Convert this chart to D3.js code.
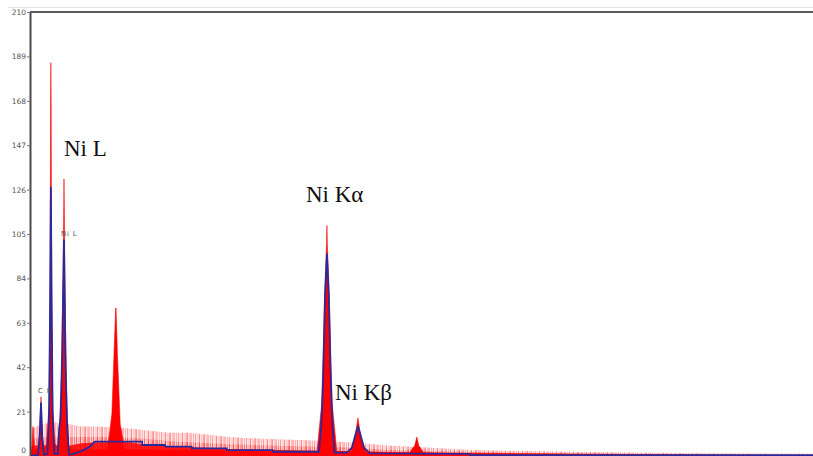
<!DOCTYPE html>
<html>
<head>
<meta charset="utf-8">
<script src="https://cdn.jsdelivr.net/npm/d3@7"></script>
<style>
  body { margin: 0; background: #fff; }
  svg { display: block; }
</style>
</head>
<body>
<svg id="chart" width="813" height="456"></svg>
<script>
// Count axis ticks
const yTicks = [0, 21, 42, 63, 84, 105, 126, 147, 168, 189, 210]

const specKeV = [0, 0.05, 0.075, 0.1, 0.2, 0.24, 0.277, 0.31, 0.36,
  0.42, 0.48, 0.505, 0.518, 0.525, 0.532, 0.545, 0.57, 0.62,
  0.7, 0.74, 0.8, 0.84, 0.85, 0.855, 0.862, 0.875, 0.91, 0.97, 1.05,
  1.95, 2.06, 2.12, 2.155, 2.165, 2.2, 2.27, 2.38,
  7.22, 7.34, 7.42, 7.46, 7.47, 7.48, 7.52, 7.6, 7.72,
  8.05, 8.17, 8.25, 8.33, 8.45,
  9.55, 9.68, 9.73, 9.78, 9.9, 20]
const specCounts = [0, 3, 14, 3, 3, 10, 28, 10, 3,
  6, 25, 80, 168, 186, 168, 80, 25, 6,
  4, 14, 40, 100, 119, 131, 119, 90, 35, 4, 3,
  3, 20, 52, 70, 70, 48, 15, 3,
  2, 25, 80, 100, 109, 100, 80, 25, 2,
  2, 8, 18, 8, 2,
  1.5, 5, 9, 5, 1.5, 0]

// Fitted spectrum (keV, counts)
const fitKeV = [0, 0.2, 0.24, 0.277, 0.31, 0.35,
  0.44, 0.48, 0.505, 0.525, 0.545, 0.57, 0.61,
  0.7, 0.735, 0.77, 0.81, 0.855, 0.89, 0.93, 0.98, 1.0,
  1.26, 1.5, 1.63, 2.82, 2.82, 3.4, 3.4, 4.07, 4.07, 4.95, 4.95, 6.11, 6.11, 7.27,
  7.33, 7.38, 7.42, 7.47, 7.52, 7.56, 7.61, 7.66, 7.97,
  8.1, 8.2, 8.25, 8.3, 8.4, 8.55, 11.07, 11.07, 20]
const fitCounts = [0, 0.5, 8, 25, 8, 0.5,
  1, 20, 70, 127, 70, 20, 1,
  1, 13, 18, 50, 102, 50, 15, 1, 0.5,
  2, 4.3, 6.8, 6.8, 5.2, 5.2, 4.4, 4.4, 3.6, 3.6, 2.8, 2.8, 2.0, 2.0,
  14, 40, 75, 95.5, 75, 40, 14, 1.6, 1.6,
  4, 11, 14, 11, 4, 1.2, 1.0, 0.4, 0.4]

// Noise band: highest spikes, dense middle and solid core
const noiseKeV = [0, 0.05, 0.3, 0.6, 1.0, 1.3, 1.7, 2.5, 3.0, 3.5, 4.0, 4.5, 5.0,
  6.0, 7.0, 8.0, 9.0, 10.0, 11.0, 12.0, 13.5, 15, 17, 20]
const noiseHigh = [0, 13, 15, 16, 15, 14, 14, 13, 12, 11, 11, 10, 9,
  8, 7.5, 6.5, 5, 4, 3, 2.5, 2, 1.6, 1.3, 1]
const noiseMid = [0, 8, 9, 9, 9, 9, 9, 8.5, 8, 7, 6.5, 6, 5.5,
  5, 4.5, 4, 3, 2.5, 2, 1.6, 1.3, 1.1, 0.9, 0.7]
const noiseCore = [0, 5, 5, 5, 5, 6, 6.5, 6.5, 5, 4.7, 4.3, 3.8, 3.3,
  3, 2.6, 2.2, 1.8, 1.5, 1.2, 1, 0.8, 0.6, 0.5, 0.4]

// Peak labels
const labelText = ['Ni L', 'Ni Kα', 'Ni Kβ']
const labelKeV = [0.855, 7.47, 8.25]
const labelApex = [131, 109, 18]
const smallLabelText = ['C K', 'Ni L']
const smallLabelKeV = [0.277, 0.855]
const smallLabelApex = [28, 102]

const width = 813
const height = 456
const RED = '#ff0000'
const BLUE = '#2a2a9c'

const svg = d3.select('#chart')

const x = d3.scaleLinear().domain([0, 20]).range([30, 825])
const y = d3.scaleLinear().domain([0, 210]).range([456, 12])

const zip = (xs, ys) => xs.map((k, i) => [k, ys[i]])

// faint outer rule above the frame
svg.append('line')
  .attr('x1', 8).attr('x2', width)
  .attr('y1', 7.5).attr('y2', 7.5)
  .attr('stroke', '#e6e6e6')
  .attr('stroke-width', 1)

// uneven stripe pattern for the noise haze
const defs = svg.append('defs')
const pat = defs.append('pattern')
  .attr('id', 'spikes')
  .attr('patternUnits', 'userSpaceOnUse')
  .attr('width', 17)
  .attr('height', 456)
pat.append('rect').attr('width', 17).attr('height', 456).attr('fill', RED).attr('fill-opacity', 0.1)
;[[0, 0.35], [2, 0.15], [3.5, 0.4], [6, 0.2], [8, 0.3], [10.5, 0.12], [12, 0.38], [14.5, 0.18], [16, 0.25]].forEach(([px, op]) => {
  pat.append('rect')
    .attr('x', px).attr('width', 1).attr('height', 456)
    .attr('fill', RED).attr('fill-opacity', op)
})

const clip = defs.append('clipPath').attr('id', 'plotClip')
clip.append('rect').attr('x', 30).attr('y', 12).attr('width', width - 30).attr('height', height - 12)

const plot = svg.append('g').attr('clip-path', 'url(#plotClip)')

const area = d3.area()
  .x((d) => x(d[0]))
  .y0(y(0))
  .y1((d) => y(d[1]))

// Noise spikes (light haze)
plot.append('path')
  .datum(zip(noiseKeV, noiseHigh))
  .attr('d', area)
  .attr('fill', 'url(#spikes)')

plot.append('path')
  .datum(zip(noiseKeV, noiseMid))
  .attr('d', area)
  .attr('fill', 'url(#spikes)')

// Noise core
plot.append('path')
  .datum(zip(noiseKeV, noiseCore))
  .attr('d', area)
  .attr('fill', RED)
  .attr('fill-opacity', 0.85)

// Measured peaks
plot.append('path')
  .datum(zip(specKeV, specCounts))
  .attr('d', area)
  .attr('fill', RED)
  .attr('stroke', RED)
  .attr('stroke-opacity', 0.55)
  .attr('stroke-width', 1)

// Fit line
plot.append('path')
  .datum(zip(fitKeV, fitCounts))
  .attr('d', d3.line().x((d) => x(d[0])).y((d) => y(d[1])))
  .attr('fill', 'none')
  .attr('stroke', BLUE)
  .attr('stroke-width', 1.8)
  .attr('stroke-linejoin', 'round')

// Frame top
svg.append('line')
  .attr('x1', 30).attr('x2', width)
  .attr('y1', 12).attr('y2', 12)
  .attr('stroke', '#5a5a5a')
  .attr('stroke-width', 2)

// Count axis
const yAxis = svg.append('g')
  .attr('transform', 'translate(30,0)')
  .call(d3.axisLeft(y).tickValues(yTicks).tickSize(3).tickSizeOuter(0).tickPadding(1))

yAxis.select('.domain').attr('stroke', '#4a4a4a').attr('stroke-width', 2)
yAxis.selectAll('.tick line').attr('stroke', '#777')
yAxis.selectAll('.tick text')
  .attr('fill', '#555')
  .attr('dy', (d) => (d === 0 ? '-0.5em' : '0.32em'))
  .style('font-family', 'DejaVu Sans, sans-serif')
  .style('font-size', '7.5px')

// Small spectrometer labels
svg.selectAll('text.small-label')
  .data(smallLabelText)
  .enter()
  .append('text')
  .attr('class', 'small-label')
  .attr('x', (d, i) => x(smallLabelKeV[i]) - 3)
  .attr('y', (d, i) => y(smallLabelApex[i]) - 4)
  .attr('fill', '#555')
  .style('font-family', 'DejaVu Sans, sans-serif')
  .style('font-size', '7px')
  .style('letter-spacing', '0.8px')
  .text((d) => d)

// Peak labels
const labelOffset = [[0, -23], [-21, -24], [-23, -18]]
svg.selectAll('text.peak-label')
  .data(labelText)
  .enter()
  .append('text')
  .attr('class', 'peak-label')
  .attr('x', (d, i) => x(labelKeV[i]) + labelOffset[i][0])
  .attr('y', (d, i) => y(labelApex[i]) + labelOffset[i][1])
  .attr('fill', '#111')
  .style('font-family', 'Liberation Serif, Times New Roman, serif')
  .style('font-size', '23px')
  .text((d) => d)
</script>
</body>
</html>
